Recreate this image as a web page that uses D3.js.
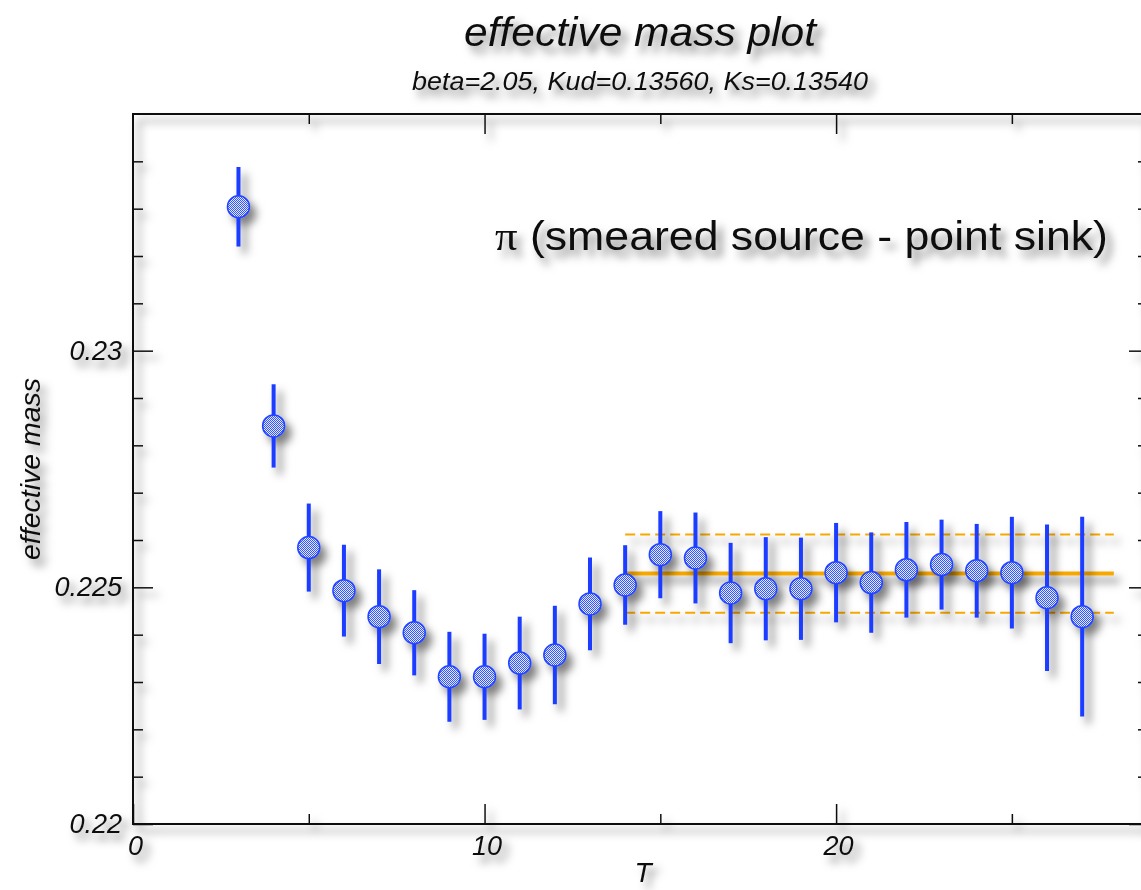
<!DOCTYPE html>
<html>
<head>
<meta charset="utf-8">
<script src="https://cdn.jsdelivr.net/npm/d3@7"></script>
<style>
  html, body { margin: 0; padding: 0; background: #ffffff; }
  svg { display: block; }
  text { font-family: "Liberation Sans", Arial, Helvetica, sans-serif; fill: #111; }
</style>
</head>
<body>
<svg id="chart" width="1141" height="890"></svg>
<script>
// ---------------- data ----------------
const tValues = [3, 4, 5, 6, 7, 8, 9, 10, 11, 12, 13, 14, 15, 16, 17, 18, 19, 20, 21, 22, 23, 24, 25, 26, 27];
const massValues = [0.23304, 0.22841, 0.22584, 0.22493, 0.22438, 0.22404, 0.22311, 0.22311, 0.22340, 0.22357,
                    0.22465, 0.22505, 0.22569, 0.22562, 0.22488, 0.22497, 0.22497, 0.22531, 0.22510, 0.22537,
                    0.22548, 0.22535, 0.22531, 0.22478, 0.22438];
const massErrors = [0.00084, 0.00088, 0.00093, 0.00097, 0.00100, 0.00090, 0.00095, 0.00091, 0.00098, 0.00104,
                    0.00098, 0.00084, 0.00092, 0.00096, 0.00106, 0.00109, 0.00108, 0.00105, 0.00106, 0.00101,
                    0.00095, 0.00099, 0.00118, 0.00155, 0.00211];
const fitRange = [14, 27.9];
const fitValue = 0.22529;
const fitError = 0.000825;

const xMajorTicks = [0, 10, 20];
const xMinorTicks = [5, 15, 25];
const yMajorTicks = [0.22, 0.225, 0.23];
const yMinorTicks = [0.221, 0.222, 0.223, 0.224, 0.226, 0.227, 0.228, 0.229, 0.231, 0.232, 0.233, 0.234];
const yTickLabels = ["0.22", "0.225", "0.23"];

const titleText = "effective mass plot";
const subtitleText = "beta=2.05, Kud=0.13560, Ks=0.13540";
const xLabelText = "T";
const yLabelText = "effective mass";
const legendSymbol = "\u03C0";
const legendText = " (smeared source - point sink)";

// ---------------- layout ----------------
const svg = d3.select("#chart");
const pLeft = 133, pTop = 114, pRight = 1143, pBottom = 824;

const x = d3.scaleLinear().domain([0, 28.73]).range([pLeft, pRight]);
const y = d3.scaleLinear().domain([0.22, 0.235]).range([pBottom, pTop]);

const defs = svg.append("defs");
const shadowWide = defs.append("filter").attr("id", "shadowWide")
  .attr("filterUnits", "userSpaceOnUse")
  .attr("x", 0).attr("y", 0).attr("width", 1141).attr("height", 890);
shadowWide.append("feDropShadow").attr("dx", 6).attr("dy", 7).attr("stdDeviation", 4.5)
  .attr("flood-color", "#000").attr("flood-opacity", 0.5);

const pat = defs.append("pattern").attr("id", "chk")
  .attr("patternUnits", "userSpaceOnUse").attr("width", 2).attr("height", 2);
pat.append("rect").attr("width", 2).attr("height", 2).attr("fill", "#e4e9ff");
pat.append("rect").attr("x", 0).attr("y", 0).attr("width", 1).attr("height", 1).attr("fill", "#3355ff");
pat.append("rect").attr("x", 1).attr("y", 1).attr("width", 1).attr("height", 1).attr("fill", "#3355ff");

// ---------------- frame + axes ----------------
const axesG = svg.append("g").attr("filter", "url(#shadowWide)");

axesG.append("rect")
  .attr("x", pLeft).attr("y", pTop).attr("width", pRight - pLeft).attr("height", pBottom - pTop)
  .attr("fill", "none").attr("stroke", "#111").attr("stroke-width", 2);

function styleAxis(g) {
  g.select(".domain").remove();
  g.selectAll(".tick line").attr("stroke", "#111").attr("stroke-width", 1.5);
}

// bottom
axesG.append("g").attr("transform", `translate(0,${pBottom})`)
  .call(d3.axisBottom(x).tickValues(xMajorTicks).tickSizeInner(-20).tickSizeOuter(0).tickPadding(12).tickFormat(d3.format("d")))
  .call(styleAxis)
  .call(g => g.selectAll("text").attr("font-size", 27).attr("font-style", "italic")
    .attr("font-family", "Liberation Sans, Arial, sans-serif").attr("fill", "#111").attr("dx", 2));
axesG.append("g").attr("transform", `translate(0,${pBottom})`)
  .call(d3.axisBottom(x).tickValues(xMinorTicks).tickSizeInner(-10).tickSizeOuter(0).tickFormat(""))
  .call(styleAxis);
// top
axesG.append("g").attr("transform", `translate(0,${pTop})`)
  .call(d3.axisTop(x).tickValues(xMajorTicks.filter(d => d > 0)).tickSizeInner(-20).tickSizeOuter(0).tickFormat(""))
  .call(styleAxis);
axesG.append("g").attr("transform", `translate(0,${pTop})`)
  .call(d3.axisTop(x).tickValues(xMinorTicks).tickSizeInner(-10).tickSizeOuter(0).tickFormat(""))
  .call(styleAxis);
// left
axesG.append("g").attr("transform", `translate(${pLeft},0)`)
  .call(d3.axisLeft(y).tickValues(yMajorTicks).tickSizeInner(-20).tickSizeOuter(0).tickPadding(11)
    .tickFormat((d, i) => yTickLabels[i]))
  .call(styleAxis)
  .call(g => g.selectAll("text").attr("font-size", 27).attr("font-style", "italic")
    .attr("font-family", "Liberation Sans, Arial, sans-serif").attr("fill", "#111"));
axesG.append("g").attr("transform", `translate(${pLeft},0)`)
  .call(d3.axisLeft(y).tickValues(yMinorTicks).tickSizeInner(-10).tickSizeOuter(0).tickFormat(""))
  .call(styleAxis);
// right
axesG.append("g").attr("transform", `translate(${pRight},0)`)
  .call(d3.axisRight(y).tickValues(yMajorTicks).tickSizeInner(-14).tickSizeOuter(0).tickFormat(""))
  .call(styleAxis);
axesG.append("g").attr("transform", `translate(${pRight},0)`)
  .call(d3.axisRight(y).tickValues(yMinorTicks).tickSizeInner(-5).tickSizeOuter(0).tickFormat(""))
  .call(styleAxis);

// ---------------- titles ----------------
const textG = svg.append("g").attr("filter", "url(#shadowWide)");

textG.append("text").attr("x", 640).attr("y", 46).attr("text-anchor", "middle")
  .attr("font-size", 41).attr("font-style", "italic")
  .attr("textLength", 352).attr("lengthAdjust", "spacingAndGlyphs")
  .text(titleText);
textG.append("text").attr("x", 640).attr("y", 90).attr("text-anchor", "middle")
  .attr("font-size", 25).attr("font-style", "italic")
  .attr("textLength", 456).attr("lengthAdjust", "spacingAndGlyphs")
  .text(subtitleText);
textG.append("text").attr("x", 643).attr("y", 882).attr("text-anchor", "middle")
  .attr("font-size", 28).attr("font-style", "italic")
  .text(xLabelText);
textG.append("text")
  .attr("transform", "translate(40,469) rotate(-90)")
  .attr("text-anchor", "middle")
  .attr("font-size", 28).attr("font-style", "italic")
  .attr("textLength", 182).attr("lengthAdjust", "spacingAndGlyphs")
  .text(yLabelText);

const legend = textG.append("text").attr("x", 495).attr("y", 250)
  .attr("font-size", 40)
  .attr("textLength", 613).attr("lengthAdjust", "spacingAndGlyphs");
legend.append("tspan").attr("font-family", "Liberation Serif, Times New Roman, serif").text(legendSymbol);
legend.append("tspan").text(legendText);

// ---------------- fit lines ----------------
const fitG = svg.append("g").attr("filter", "url(#shadowWide)");
const fitColor = "#f7a800";
fitG.append("line")
  .attr("x1", x(fitRange[0])).attr("x2", x(fitRange[1]))
  .attr("y1", y(fitValue)).attr("y2", y(fitValue))
  .attr("stroke", fitColor).attr("stroke-width", 4);
[fitValue + fitError, fitValue - fitError].forEach(v => {
  fitG.append("line")
    .attr("x1", x(fitRange[0])).attr("x2", x(fitRange[1]))
    .attr("y1", y(v)).attr("y2", y(v))
    .attr("stroke", fitColor).attr("stroke-width", 2)
    .attr("stroke-dasharray", "10,5");
});

// ---------------- data points ----------------
const pts = tValues.map((t, i) => ({ t, m: massValues[i], e: massErrors[i] }));
const ptG = svg.append("g").attr("filter", "url(#shadowWide)");

ptG.selectAll("line.err").data(pts).join("line").attr("class", "err")
  .attr("x1", d => x(d.t)).attr("x2", d => x(d.t))
  .attr("y1", d => y(d.m - d.e)).attr("y2", d => y(d.m + d.e))
  .attr("stroke", "#1a3cff").attr("stroke-width", 4);

ptG.selectAll("circle.pt").data(pts).join("circle").attr("class", "pt")
  .attr("cx", d => x(d.t)).attr("cy", d => y(d.m)).attr("r", 11)
  .attr("fill", "url(#chk)").attr("stroke", "#2244ff").attr("stroke-width", 1.5);
</script>
</body>
</html>
